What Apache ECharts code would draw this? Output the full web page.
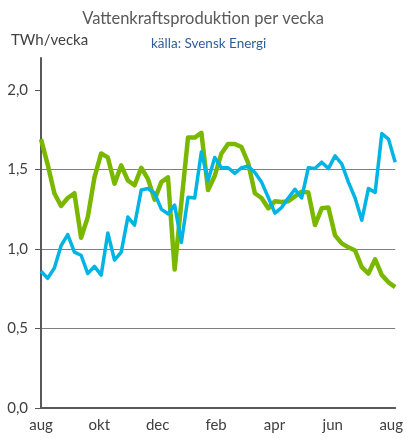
<!DOCTYPE html>
<html>
<head>
<meta charset="utf-8">
<script src="https://cdn.jsdelivr.net/npm/echarts@6/dist/echarts.min.js"></script>
<style>
  html, body { margin: 0; padding: 0; background: #fff; }
  #chart { width: 406px; height: 440px; }
</style>
</head>
<body>
<div id="chart"></div>
<script>
// veckovärden, TWh/vecka
var greenSeries = [
  1.69, 1.53, 1.35, 1.27, 1.32, 1.35, 1.07, 1.20, 1.45, 1.60,
  1.575, 1.41, 1.525, 1.43, 1.40, 1.51, 1.44, 1.31, 1.42, 1.45,
  0.87, 1.29, 1.70, 1.70, 1.73, 1.37, 1.46, 1.60, 1.66, 1.66,
  1.64, 1.54, 1.35, 1.32, 1.255, 1.30, 1.295, 1.30, 1.33, 1.36,
  1.355, 1.15, 1.255, 1.26, 1.085, 1.035, 1.01, 0.99, 0.885, 0.845,
  0.935, 0.835, 0.79, 0.76
];
var blueSeries = [
  0.86, 0.815, 0.88, 1.02, 1.09, 0.98, 0.96, 0.845, 0.89, 0.835,
  1.10, 0.93, 0.98, 1.20, 1.15, 1.37, 1.38, 1.35, 1.25, 1.22,
  1.275, 1.04, 1.325, 1.32, 1.61, 1.43, 1.575, 1.51, 1.51, 1.475,
  1.51, 1.52, 1.48, 1.42, 1.325, 1.225, 1.26, 1.32, 1.375, 1.32,
  1.51, 1.505, 1.545, 1.505, 1.585, 1.535, 1.42, 1.32, 1.18, 1.38,
  1.355, 1.725, 1.69, 1.545
];
// månadsetiketter (position i veckor)
var monthPos = [0, 8.73, 17.46, 26.2, 34.93, 43.66, 52.4];
var monthLabels = ['aug', 'okt', 'dec', 'feb', 'apr', 'jun', 'aug'];
var yTicks = [0, 0.5, 1.0, 1.5, 2.0];

var font = 'Lato, "Open Sans", sans-serif';

function toPairs(arr) {
  return arr.map(function (v, i) { return [i, v]; });
}

var option = {
  animation: false,
  backgroundColor: '#fff',
  title: [
    {
      text: 'Vattenkraftsproduktion per vecka',
      left: 'center',
      top: 5,
      textStyle: { fontFamily: font, fontSize: 16.5, fontWeight: 'normal', color: '#595959' }
    },
    {
      text: 'TWh/vecka',
      left: 6,
      top: 28,
      textStyle: { fontFamily: font, fontSize: 15, fontWeight: 'normal', color: '#404040' }
    },
    {
      text: 'källa: Svensk Energi',
      left: 146,
      top: 32,
      textStyle: { fontFamily: font, fontSize: 13.5, fontWeight: 'normal', color: '#2f5d9c' }
    }
  ],
  grid: { left: 41, right: 9, top: 58, bottom: 32 },
  xAxis: {
    type: 'value',
    min: 0,
    max: 53,
    axisLine: { show: true, lineStyle: { color: '#595959', width: 2 } },
    axisTick: { show: false },
    splitLine: { show: false },
    axisLabel: {
      customValues: monthPos,
      margin: 10,
      fontFamily: font,
      fontSize: 15,
      color: '#404040',
      formatter: function (v) {
        var i = monthPos.indexOf(v);
        return i >= 0 ? monthLabels[i] : '';
      }
    }
  },
  yAxis: {
    type: 'value',
    min: 0,
    max: 2.2,
    interval: 0.5,
    axisLine: { show: true, lineStyle: { color: '#595959', width: 2 } },
    axisTick: { show: true, customValues: yTicks, length: 6, lineStyle: { color: '#595959', width: 1 } },
    splitLine: { show: true, showMaxLine: false, lineStyle: { color: '#7f7f7f', width: 1 } },
    axisLabel: {
      customValues: yTicks,
      margin: 13,
      fontFamily: font,
      fontSize: 15,
      color: '#404040',
      formatter: function (v) { return v.toFixed(1).replace('.', ','); }
    }
  },
  series: [
    {
      name: 'grön',
      type: 'line',
      data: toPairs(greenSeries),
      symbol: 'none',
      lineStyle: { color: '#7ab800', width: 4.5, join: 'round' },
      z: 2
    },
    {
      name: 'blå',
      type: 'line',
      data: toPairs(blueSeries),
      symbol: 'none',
      lineStyle: { color: '#00b4e4', width: 3.5, join: 'round' },
      z: 3
    }
  ]
};

var myChart = echarts.init(document.getElementById('chart'));
myChart.setOption(option);
</script>
</body>
</html>
